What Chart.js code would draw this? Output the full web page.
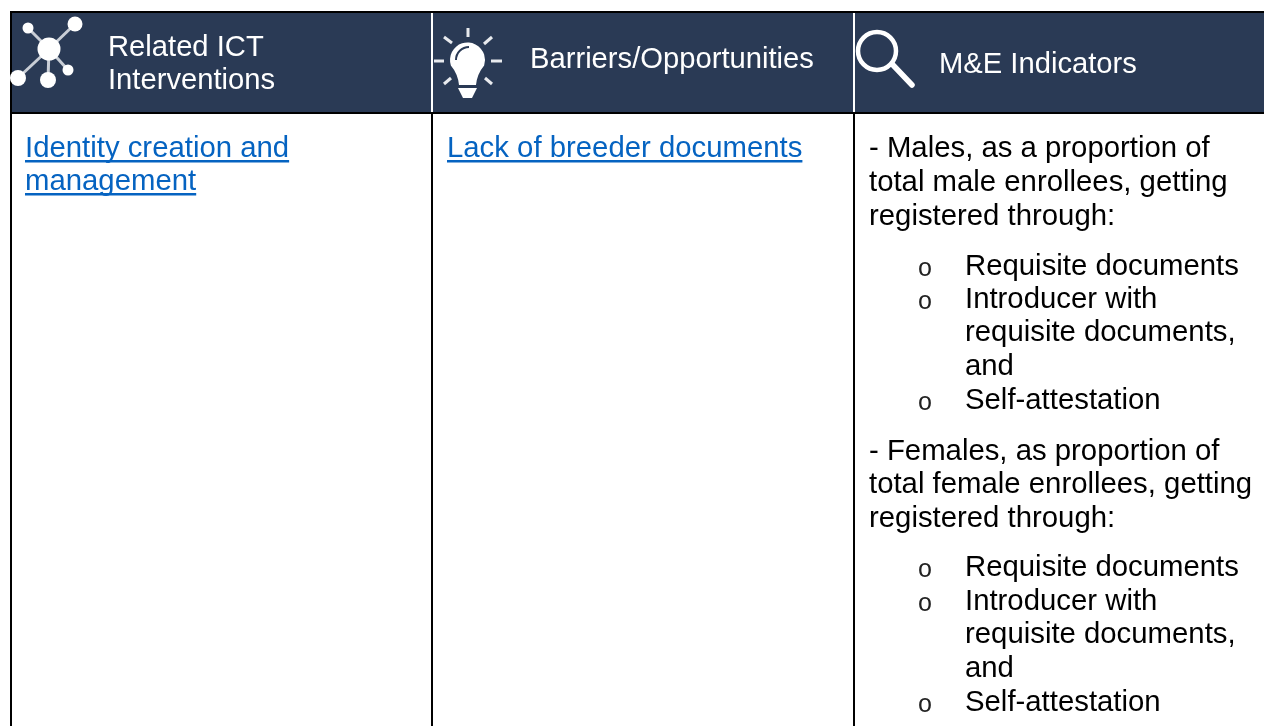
<!DOCTYPE html>
<html>
<head>
<meta charset="utf-8">
<title>ICT interventions table</title>
<script src="https://cdn.jsdelivr.net/npm/chart.js@4"></script>
<style>
  html, body { margin: 0; padding: 0; background: #fff; overflow: hidden; }
  canvas { display: block; }
</style>
</head>
<body>
<canvas id="myChart" width="1264" height="726"></canvas>
<script>
// table content
const columns = ["Related ICT Interventions", "Barriers/Opportunities", "M&E Indicators"];
const headerLines = [["Related ICT", "Interventions"], ["Barriers/Opportunities"], ["M&E Indicators"]];
const interventions = ["Identity creation and", "management"];
const barriers = ["Lack of breeder documents"];
const indicators = [
  "- Males, as a proportion of", "total male enrollees, getting", "registered through:",
  "Requisite documents", "Introducer with", "requisite documents,", "and", "Self-attestation",
  "- Females, as proportion of", "total female enrollees, getting", "registered through:",
  "Requisite documents", "Introducer with", "requisite documents,", "and", "Self-attestation"
];
const bulletRows = [3, 4, 7, 11, 12, 15];

// layout, in page pixels
const columnEdges = [11, 432, 854, 1264];
const headerTop = 12;
const headerBottom = 113;
const headerTextX = [108, 530, 939];
const headerBaselines = [[56, 89], [68], [73]];
const linkBaselines = [157, 190];
const indicatorBaselines = [157, 191, 225, 275, 308, 341, 375, 409, 460, 493, 527, 576, 610, 643, 677, 711];

const fontFamily = '"Liberation Sans", Arial, sans-serif';
const navy = "#2a3a55";
const linkBlue = "#0563c1";

const rule = (x1, y1, x2, y2, color) => ({
  type: "line",
  data: [{ x: x1, y: y1 }, { x: x2, y: y2 }],
  borderColor: color,
  borderWidth: 2,
  pointRadius: 0,
  order: 0,
});

const drawNetwork = (ctx, px, py) => {
  const hub = [49, 49];
  const nodes = [[28, 28, 5.5], [75, 24, 7.5], [68, 70, 5.5], [48, 80, 8], [18, 78, 8]];
  ctx.strokeStyle = "#c9ced6";
  ctx.fillStyle = "#fff";
  ctx.lineWidth = 3;
  nodes.forEach((n) => {
    ctx.beginPath();
    ctx.moveTo(px(hub[0]), py(hub[1]));
    ctx.lineTo(px(n[0]), py(n[1]));
    ctx.stroke();
    ctx.beginPath();
    ctx.arc(px(n[0]), py(n[1]), n[2], 0, Math.PI * 2);
    ctx.fill();
  });
  ctx.beginPath();
  ctx.arc(px(hub[0]), py(hub[1]), 11.5, 0, Math.PI * 2);
  ctx.fill();
};

const drawBulb = (ctx, px, py) => {
  const rays = [
    [468, 28, 468, 37], [434, 61, 444, 61], [491, 61, 502, 61],
    [444, 37, 452, 43], [492, 37, 484, 44], [444, 84, 451, 78], [492, 84, 485, 78],
  ];
  ctx.strokeStyle = "#e8eaee";
  ctx.fillStyle = "#fff";
  ctx.lineWidth = 3;
  rays.forEach((r) => {
    ctx.beginPath();
    ctx.moveTo(px(r[0]), py(r[1]));
    ctx.lineTo(px(r[2]), py(r[3]));
    ctx.stroke();
  });
  ctx.beginPath();
  ctx.arc(px(467.5), py(60), 17.5, Math.PI * 0.9, Math.PI * 0.1);
  ctx.quadraticCurveTo(px(477), py(74), px(476), py(85));
  ctx.lineTo(px(459), py(85));
  ctx.quadraticCurveTo(px(458), py(74), px(450.5), py(65));
  ctx.closePath();
  ctx.fill();
  ctx.beginPath();
  ctx.moveTo(px(458), py(88));
  ctx.lineTo(px(477), py(88));
  ctx.lineTo(px(472), py(98));
  ctx.lineTo(px(463), py(98));
  ctx.closePath();
  ctx.fill();
  ctx.strokeStyle = navy;
  ctx.lineWidth = 2;
  ctx.beginPath();
  ctx.arc(px(469), py(60), 13, Math.PI * 1, Math.PI * 1.5);
  ctx.stroke();
};

const drawLens = (ctx, px, py) => {
  ctx.strokeStyle = "#fff";
  ctx.lineCap = "round";
  ctx.lineWidth = 4.5;
  ctx.beginPath();
  ctx.arc(px(877), py(51), 19, 0, Math.PI * 2);
  ctx.stroke();
  ctx.lineWidth = 5.5;
  ctx.beginPath();
  ctx.moveTo(px(893), py(65));
  ctx.lineTo(px(912), py(85));
  ctx.stroke();
};

const tableText = {
  id: "tableText",
  afterDatasetsDraw(chart) {
    const ctx = chart.ctx;
    const px = (v) => chart.scales.x.getPixelForValue(v);
    const py = (v) => chart.scales.y.getPixelForValue(v);

    ctx.save();
    ctx.filter = "blur(0.7px)";
    drawNetwork(ctx, px, py);
    drawBulb(ctx, px, py);
    drawLens(ctx, px, py);
    ctx.restore();

    ctx.save();
    ctx.filter = "blur(0.3px)";
    ctx.textAlign = "left";
    ctx.textBaseline = "alphabetic";

    ctx.font = "29.2px " + fontFamily;
    ctx.fillStyle = "#fff";
    headerLines.forEach((lines, c) => {
      lines.forEach((line, i) => {
        ctx.fillText(line, px(headerTextX[c]), py(headerBaselines[c][i]));
      });
    });

    ctx.font = "29.33px " + fontFamily;
    ctx.fillStyle = linkBlue;
    const link = (text, x, y) => {
      ctx.fillText(text, px(x), py(y));
      ctx.fillRect(px(x), py(y + 3), ctx.measureText(text).width, 2.5);
    };
    interventions.forEach((line, i) => link(line, 25, linkBaselines[i]));
    barriers.forEach((line, i) => link(line, 447, linkBaselines[i]));

    ctx.fillStyle = "#000";
    indicators.forEach((line, i) => {
      const nested = i > 2 && i < 8 || i > 10;
      ctx.fillText(line, px(nested ? 965 : 869), py(indicatorBaselines[i]));
    });
    ctx.font = "25px \"Liberation Mono\", monospace";
    ctx.fillStyle = "#222";
    bulletRows.forEach((i) => {
      ctx.fillText("o", px(917.5), py(indicatorBaselines[i] + 1));
    });
    ctx.restore();
  },
};

const headerBars = columns.map((name, c) => ({
  x: [columnEdges[c], columnEdges[c + 1]],
  y: (headerTop + headerBottom) / 2,
  name: name,
}));

const ctx = document.getElementById("myChart").getContext("2d");
const myChart = new Chart(ctx, {
  data: {
    datasets: [
      {
        type: "bar",
        indexAxis: "y",
        data: headerBars,
        backgroundColor: navy,
        borderWidth: 0,
        barThickness: headerBottom - headerTop,
        order: 1,
      },
      rule(10, headerTop, 1264, headerTop, "#000"),
      rule(10, headerBottom, 1264, headerBottom, "#000"),
      rule(columnEdges[0], headerTop, columnEdges[0], 726, "#000"),
      rule(columnEdges[1], headerTop, columnEdges[1], headerBottom - 1, "#fff"),
      rule(columnEdges[1], headerBottom, columnEdges[1], 726, "#000"),
      rule(columnEdges[2], headerTop, columnEdges[2], headerBottom - 1, "#fff"),
      rule(columnEdges[2], headerBottom, columnEdges[2], 726, "#000"),
    ],
  },
  options: {
    responsive: false,
    animation: false,
    layout: { padding: 0 },
    plugins: { legend: { display: false }, tooltip: { enabled: false } },
    scales: {
      x: { type: "linear", min: 0, max: 1264, offset: false, display: false },
      y: { type: "linear", min: 0, max: 726, reverse: true, offset: false, display: false },
    },
  },
  plugins: [tableText],
});
</script>
</body>
</html>
